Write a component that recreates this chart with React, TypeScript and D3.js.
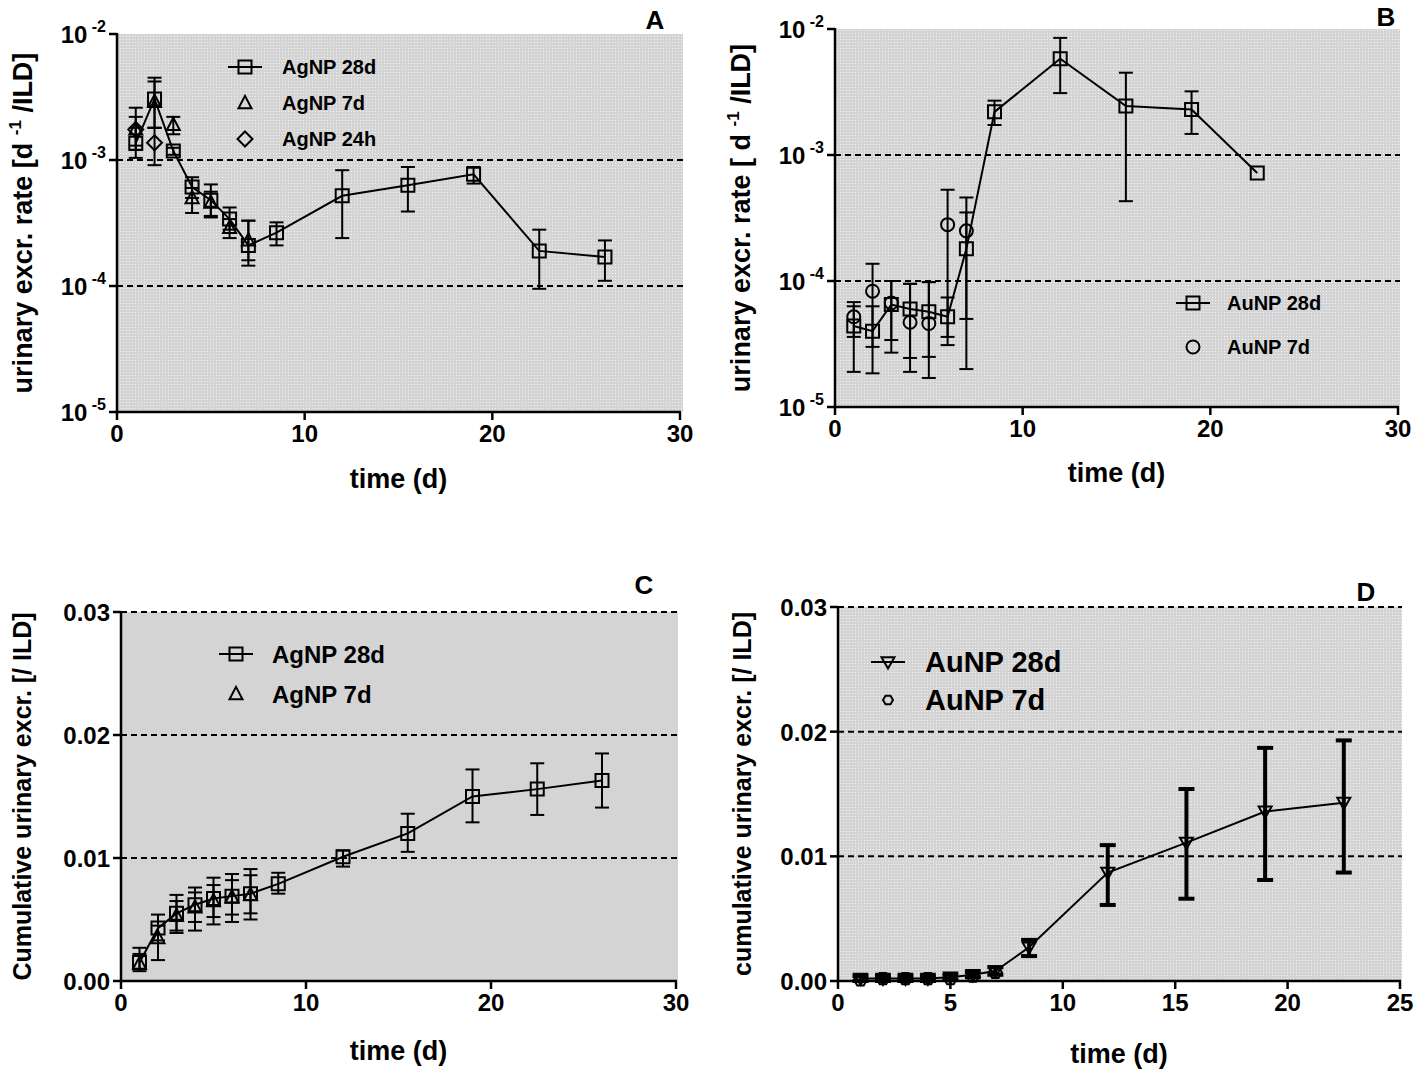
import React from 'react';
import * as d3 from 'd3';

// ---- data ----
const timeLong = [1, 2, 3, 4, 5, 6, 7, 8.5, 12, 15.5, 19, 22.5, 26];
const timeAu = [1, 2, 3, 4, 5, 6, 7, 8.5, 12, 15.5, 19, 22.5];
const time7d = [1, 2, 3, 4, 5, 6, 7];
const time24h = [1, 2];

// A: AgNP urinary excretion rate
const agRate28 = [1.36e-3, 3.05e-3, 1.18e-3, 6.1e-4, 4.8e-4, 3.4e-4, 2.1e-4, 2.65e-4, 5.2e-4, 6.3e-4, 7.7e-4, 1.9e-4, 1.7e-4];
const agRate28Hi = [1.8e-3, 4.5e-3, 1.25e-3, 7.3e-4, 6.4e-4, 4.2e-4, 3.3e-4, 3.2e-4, 8.3e-4, 8.8e-4, 8.8e-4, 2.8e-4, 2.3e-4];
const agRate28Lo = [1.04e-3, 1.8e-3, 1.1e-3, 5.0e-4, 3.6e-4, 2.8e-4, 1.45e-4, 2.1e-4, 2.4e-4, 3.9e-4, 6.5e-4, 9.5e-5, 1.1e-4];
const agRate7 = [1.75e-3, 2.9e-3, 1.9e-3, 5.0e-4, 4.6e-4, 2.9e-4, 2.3e-4];
const agRate7Hi = [2.6e-3, 4.2e-3, 2.2e-3, 6.0e-4, 5.6e-4, 3.4e-4, 3.3e-4];
const agRate7Lo = [1.2e-3, 1.8e-3, 1.6e-3, 3.8e-4, 3.5e-4, 2.4e-4, 1.6e-4];
const agRate24 = [1.75e-3, 1.37e-3];
const agRate24Hi = [2.2e-3, 1.8e-3];
const agRate24Lo = [1.3e-3, 9.1e-4];

// B: AuNP urinary excretion rate
const auRate28 = [4.4e-5, 4.0e-5, 6.5e-5, 6.0e-5, 5.7e-5, 5.2e-5, 1.8e-4, 2.2e-3, 5.8e-3, 2.45e-3, 2.3e-3, 7.2e-4];
const auRate28Hi = [6.3e-5, 6.3e-5, 1.0e-4, 9.5e-5, 9.8e-5, 7.4e-5, 3.5e-4, 2.7e-3, 8.5e-3, 4.5e-3, 3.2e-3, NaN];
const auRate28Lo = [1.9e-5, 1.85e-5, 2.7e-5, 2.45e-5, 2.5e-5, 3.1e-5, 5.0e-5, 1.73e-3, 3.1e-3, 4.3e-4, 1.47e-3, NaN];
const auRate7 = [5.2e-5, 8.3e-5, 6.7e-5, 4.7e-5, 4.6e-5, 2.8e-4, 2.5e-4];
const auRate7Hi = [6.8e-5, 1.37e-4, 1.0e-4, 9.5e-5, 9.8e-5, 5.3e-4, 4.6e-4];
const auRate7Lo = [3.6e-5, 3.0e-5, 3.4e-5, 1.9e-5, 1.7e-5, 3.6e-5, 2.0e-5];

// C: AgNP cumulative
const agCum28 = [0.0015, 0.0043, 0.0055, 0.0062, 0.0067, 0.0069, 0.0071, 0.0079, 0.0101, 0.012, 0.015, 0.0156, 0.0163];
const agCum28Hi = [0.0027, 0.0054, 0.007, 0.0076, 0.0084, 0.0087, 0.0091, 0.0088, 0.0106, 0.0136, 0.0172, 0.0177, 0.0185];
const agCum28Lo = [0.001, 0.0033, 0.0039, 0.0041, 0.0046, 0.0048, 0.005, 0.0071, 0.0093, 0.0105, 0.0129, 0.0135, 0.0141];
const agCum7 = [0.0014, 0.0035, 0.0053, 0.006, 0.0065, 0.0068, 0.007];
const agCum7Hi = [0.0022, 0.0045, 0.0065, 0.0072, 0.0078, 0.0082, 0.0086];
const agCum7Lo = [0.0008, 0.0017, 0.0041, 0.0048, 0.0052, 0.0054, 0.0055];

// D: AuNP cumulative
const auCum28 = [0.0002, 0.0002, 0.0002, 0.0002, 0.0003, 0.0005, 0.0008, 0.0027, 0.0087, 0.0111, 0.0136, 0.0143];
const auCum28Hi = [0.0004, 0.0004, 0.0004, 0.0004, 0.0005, 0.0007, 0.0011, 0.0033, 0.0109, 0.0154, 0.0187, 0.0193];
const auCum28Lo = [0, 0, 0, 0, 0.0001, 0.0003, 0.0005, 0.002, 0.0061, 0.0066, 0.0081, 0.0087];
const auCum7 = [0.0001, 0.0002, 0.0002, 0.0002, 0.0002, 0.0004, 0.0007];

const logTicks = [1e-5, 1e-4, 1e-3, 1e-2];
const cumTicks = [0, 0.01, 0.02, 0.03];

const FONT = '"Liberation Sans", Arial, sans-serif';

type Series = {
  x: number[];
  y: number[];
  hi?: number[];
  lo?: number[];
  marker: string;
  line: boolean;
};

function markerPath(kind: string, s: number) {
  const h = s / 2;
  switch (kind) {
    case 'square':
      return `M${-h},${-h}H${h}V${h}H${-h}Z`;
    case 'triangle':
      return `M0,${-h * 1.1}L${h},${h * 0.8}L${-h},${h * 0.8}Z`;
    case 'tridown':
      return `M0,${h * 1.0}L${h},${-h * 0.75}L${-h},${-h * 0.75}Z`;
    case 'diamond':
      return `M0,${-h * 1.15}L${h * 1.15},0L0,${h * 1.15}L${-h * 1.15},0Z`;
    case 'hexagon': {
      const pts = d3.range(6).map((i) => {
        const a = (Math.PI / 3) * i;
        return [h * Math.cos(a), h * Math.sin(a)];
      });
      return 'M' + pts.map((p) => p.join(',')).join('L') + 'Z';
    }
    default:
      return '';
  }
}

function Marker({ kind, x, y, size }: { kind: string; x: number; y: number; size: number }) {
  if (kind === 'circle') {
    return <circle cx={x} cy={y} r={size / 2} fill="none" stroke="#000" strokeWidth={2} />;
  }
  return (
    <path d={markerPath(kind, size)} transform={`translate(${x},${y})`} fill="none" stroke="#000" strokeWidth={2} />
  );
}

type PanelProps = {
  left: number;
  right: number;
  top: number;
  bottom: number;
  xMax: number;
  xTicks: number[];
  log: boolean;
  yDomain: [number, number];
  yTicks: number[];
  dashed: number[];
  series: Series[];
  bg: string;
  bgRight: number;
  letter: string;
  letterPos: [number, number];
  yTitle: React.ReactNode;
  yTitleX: number;
  yTitleSize: number;
  xTitleY: number;
  legend: { label: string; marker: string; line: boolean }[];
  legendPos: [number, number];
  legendGap: number;
  legendFont: number;
  legendDx: number;
  markerSize: number;
  errWidth: number;
  capW: number;
};

function Panel(p: PanelProps) {
  const x = d3.scaleLinear().domain([0, p.xMax]).range([p.left, p.right]);
  const y = p.log
    ? d3.scaleLog().domain(p.yDomain).range([p.bottom, p.top])
    : d3.scaleLinear().domain(p.yDomain).range([p.bottom, p.top]);
  const line = d3
    .line<[number, number]>()
    .x((d) => x(d[0]))
    .y((d) => y(d[1]));

  const yLab = (v: number) => {
    if (p.log) {
      const e = Math.round(Math.log10(v));
      return (
        <>
          <tspan>10</tspan>
          <tspan fontSize={16} dy={-11}>{` -${Math.abs(e)}`}</tspan>
        </>
      );
    }
    return d3.format('.2f')(v);
  };

  const [lx, ly] = p.legendPos;

  return (
    <g fontFamily={FONT} fontWeight="bold">
      <rect x={p.left} y={p.top} width={p.bgRight - p.left} height={p.bottom - p.top} fill={p.bg} />
      {p.dashed.map((v) => (
        <line key={v} x1={p.left} x2={p.bgRight} y1={y(v)} y2={y(v)} stroke="#000" strokeWidth={2} strokeDasharray="6,4" />
      ))}
      {/* series */}
      {p.series.map((s, si) => (
        <g key={si}>
          {s.line && (
            <path d={line(s.x.map((t, i) => [t, s.y[i]]) as [number, number][]) || ''} fill="none" stroke="#000" strokeWidth={2} />
          )}
          {s.hi &&
            s.lo &&
            s.x.map((t, i) => {
              const hi = s.hi![i];
              const lo = s.lo![i];
              if (isNaN(hi) || isNaN(lo)) return null;
              const cx = x(t);
              const yl = Math.min(y(Math.max(lo, p.log ? 1e-9 : 0)), p.bottom);
              return (
                <g key={i} stroke="#000" strokeWidth={p.errWidth}>
                  <line x1={cx} x2={cx} y1={y(hi)} y2={yl} />
                  <line x1={cx - p.capW / 2} x2={cx + p.capW / 2} y1={y(hi)} y2={y(hi)} />
                  <line x1={cx - p.capW / 2} x2={cx + p.capW / 2} y1={yl} y2={yl} />
                </g>
              );
            })}
          {s.x.map((t, i) => (
            <Marker key={i} kind={s.marker} x={x(t)} y={y(s.y[i])} size={p.markerSize} />
          ))}
        </g>
      ))}
      {/* axes */}
      <line x1={p.left} x2={p.left} y1={p.top - 1} y2={p.bottom + 1} stroke="#000" strokeWidth={2.5} />
      <line x1={p.left - 1} x2={p.right + 1} y1={p.bottom} y2={p.bottom} stroke="#000" strokeWidth={2.5} />
      {p.yTicks.map((v) => (
        <g key={v}>
          <line x1={p.left - 8} x2={p.left} y1={y(v)} y2={y(v)} stroke="#000" strokeWidth={2.5} />
          <text x={p.left - 11} y={y(v) + 9} fontSize={24} textAnchor="end">
            {yLab(v)}
          </text>
        </g>
      ))}
      {p.xTicks.map((v) => (
        <g key={v}>
          <line x1={x(v)} x2={x(v)} y1={p.bottom} y2={p.bottom + 8} stroke="#000" strokeWidth={2.5} />
          <text x={x(v)} y={p.bottom + 30} fontSize={24} textAnchor="middle">
            {v}
          </text>
        </g>
      ))}
      <text x={(p.left + p.right) / 2} y={p.xTitleY} fontSize={27} textAnchor="middle">
        time (d)
      </text>
      <text
        transform={`translate(${p.yTitleX},${(p.top + p.bottom) / 2}) rotate(-90)`}
        fontSize={p.yTitleSize}
        textAnchor="middle"
      >
        {p.yTitle}
      </text>
      <text x={p.letterPos[0]} y={p.letterPos[1]} fontSize={26} textAnchor="middle">
        {p.letter}
      </text>
      {/* legend */}
      {p.legend.map((l, i) => {
        const yy = ly + i * p.legendGap;
        return (
          <g key={l.label}>
            {l.line && <line x1={lx - 17} x2={lx + 17} y1={yy} y2={yy} stroke="#000" strokeWidth={2} />}
            <Marker kind={l.marker} x={lx} y={yy} size={l.marker === 'hexagon' ? 10 : p.markerSize} />
            <text x={lx + p.legendDx} y={yy + p.legendFont * 0.36} fontSize={p.legendFont}>
              {l.label}
            </text>
          </g>
        );
      })}
    </g>
  );
}

export default function App() {
  return (
    <>
      <style>{'html,body{margin:0;padding:0;overflow:hidden}'}</style>
      <svg width={1418} height={1071} style={{ display: 'block' }}>
        <defs>
          <pattern id="dots" width={3} height={3} patternUnits="userSpaceOnUse">
            <rect width={3} height={3} fill="#d4d4d4" />
            <rect width={1} height={1} fill="#f2f2f2" />
          </pattern>
        </defs>
        <rect width={1418} height={1071} fill="#fff" />
        <Panel
          left={117}
          right={680}
          top={34}
          bottom={412}
          bgRight={683}
          xMax={30}
          xTicks={[0, 10, 20, 30]}
          log
          yDomain={[1e-5, 1e-2]}
          yTicks={logTicks}
          dashed={[1e-3, 1e-4]}
          bg="url(#dots)"
          letter="A"
          letterPos={[655, 29]}
          yTitle={
            <>
              urinary excr. rate [d <tspan fontSize={17} dy={-11}>-1</tspan>
              <tspan dy={11}> /ILD]</tspan>
            </>
          }
          yTitleX={32}
          yTitleSize={27}
          xTitleY={488}
          series={[
            { x: timeLong, y: agRate28, hi: agRate28Hi, lo: agRate28Lo, marker: 'square', line: true },
            { x: time7d, y: agRate7, hi: agRate7Hi, lo: agRate7Lo, marker: 'triangle', line: false },
            { x: time24h, y: agRate24, hi: agRate24Hi, lo: agRate24Lo, marker: 'diamond', line: false },
          ]}
          legend={[
            { label: 'AgNP 28d', marker: 'square', line: true },
            { label: 'AgNP 7d', marker: 'triangle', line: false },
            { label: 'AgNP 24h', marker: 'diamond', line: false },
          ]}
          legendPos={[245, 67]}
          legendGap={36}
          legendFont={20}
          legendDx={37}
          markerSize={13}
          errWidth={2}
          capW={14}
        />
        <Panel
          left={835}
          right={1398}
          top={29}
          bottom={407}
          bgRight={1400}
          xMax={30}
          xTicks={[0, 10, 20, 30]}
          log
          yDomain={[1e-5, 1e-2]}
          yTicks={logTicks}
          dashed={[1e-3, 1e-4]}
          bg="url(#dots)"
          letter="B"
          letterPos={[1386, 26]}
          yTitle={
            <>
              urinary excr. rate [ d <tspan fontSize={17} dy={-11}>-1</tspan>
              <tspan dy={11}> /ILD]</tspan>
            </>
          }
          yTitleX={750}
          yTitleSize={27}
          xTitleY={482}
          series={[
            { x: timeAu, y: auRate28, hi: auRate28Hi, lo: auRate28Lo, marker: 'square', line: true },
            { x: time7d, y: auRate7, hi: auRate7Hi, lo: auRate7Lo, marker: 'circle', line: false },
          ]}
          legend={[
            { label: 'AuNP 28d', marker: 'square', line: true },
            { label: 'AuNP 7d', marker: 'circle', line: false },
          ]}
          legendPos={[1193, 303]}
          legendGap={44}
          legendFont={20}
          legendDx={34}
          markerSize={13}
          errWidth={2}
          capW={14}
        />
        <Panel
          left={121}
          right={676}
          top={612}
          bottom={981}
          bgRight={678}
          xMax={30}
          xTicks={[0, 10, 20, 30]}
          log={false}
          yDomain={[0, 0.03]}
          yTicks={cumTicks}
          dashed={[0.01, 0.02, 0.03]}
          bg="#d4d4d4"
          letter="C"
          letterPos={[644, 594]}
          yTitle="Cumulative urinary excr. [/ ILD]"
          yTitleX={31}
          yTitleSize={25}
          xTitleY={1060}
          series={[
            { x: timeLong, y: agCum28, hi: agCum28Hi, lo: agCum28Lo, marker: 'square', line: true },
            { x: time7d, y: agCum7, hi: agCum7Hi, lo: agCum7Lo, marker: 'triangle', line: false },
          ]}
          legend={[
            { label: 'AgNP 28d', marker: 'square', line: true },
            { label: 'AgNP 7d', marker: 'triangle', line: false },
          ]}
          legendPos={[236, 654]}
          legendGap={40}
          legendFont={24}
          legendDx={36}
          markerSize={13}
          errWidth={2}
          capW={14}
        />
        <Panel
          left={838}
          right={1400}
          top={607}
          bottom={981}
          bgRight={1402}
          xMax={25}
          xTicks={[0, 5, 10, 15, 20, 25]}
          log={false}
          yDomain={[0, 0.03]}
          yTicks={cumTicks}
          dashed={[0.01, 0.02, 0.03]}
          bg="url(#dots)"
          letter="D"
          letterPos={[1366, 601]}
          yTitle="cumulative urinary excr. [/ ILD]"
          yTitleX={751}
          yTitleSize={25}
          xTitleY={1063}
          series={[
            { x: timeAu, y: auCum28, hi: auCum28Hi, lo: auCum28Lo, marker: 'tridown', line: true },
            { x: time7d, y: auCum7, marker: 'hexagon', line: false },
          ]}
          legend={[
            { label: 'AuNP 28d', marker: 'tridown', line: true },
            { label: 'AuNP 7d', marker: 'hexagon', line: false },
          ]}
          legendPos={[888, 662]}
          legendGap={38}
          legendFont={29}
          legendDx={37}
          markerSize={13}
          errWidth={4}
          capW={16}
        />
      </svg>
    </>
  );
}
